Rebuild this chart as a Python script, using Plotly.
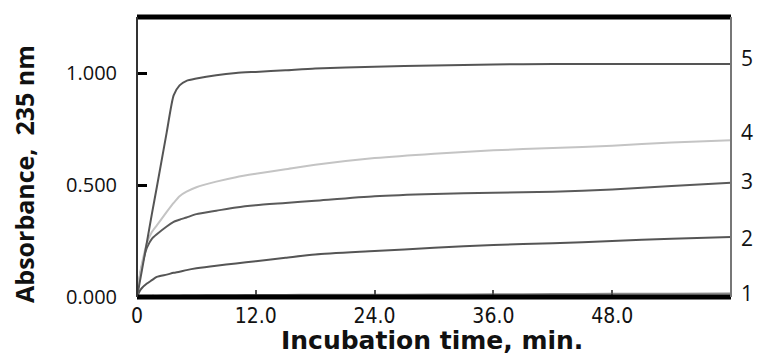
import plotly.graph_objects as go

# Incubation time (min)
time_min = [0, 0.25, 0.5, 1, 1.5, 2, 3, 3.7, 4.3, 5, 6, 8, 10, 12, 15, 18, 24, 30, 36, 42, 48, 54, 60]

# Absorbance at 235 nm for curves 1..5
curve1 = [0, 0.002, 0.003, 0.004, 0.005, 0.005, 0.006, 0.006, 0.006, 0.007, 0.007, 0.008, 0.008, 0.009, 0.009, 0.01, 0.01, 0.011, 0.012, 0.013, 0.014, 0.015, 0.016]
curve2 = [0, 0.025, 0.04, 0.06, 0.075, 0.09, 0.10, 0.108, 0.113, 0.12, 0.128, 0.14, 0.15, 0.16, 0.175, 0.19, 0.205, 0.22, 0.232, 0.24, 0.25, 0.26, 0.268]
curve3 = [0, 0.08, 0.14, 0.22, 0.26, 0.28, 0.315, 0.335, 0.345, 0.355, 0.37, 0.385, 0.40, 0.41, 0.42, 0.43, 0.45, 0.46, 0.465, 0.47, 0.48, 0.495, 0.51]
curve4 = [0, 0.09, 0.15, 0.24, 0.29, 0.32, 0.38, 0.42, 0.45, 0.47, 0.49, 0.515, 0.535, 0.55, 0.57, 0.59, 0.62, 0.64, 0.655, 0.665, 0.675, 0.69, 0.70]
curve5 = [0, 0.06, 0.12, 0.245, 0.37, 0.49, 0.735, 0.9, 0.945, 0.965, 0.975, 0.99, 1.0, 1.005, 1.012, 1.02, 1.028, 1.034, 1.038, 1.04, 1.04, 1.04, 1.04]

curve_labels = ["1", "2", "3", "4", "5"]
label_values = [0.018, 0.263, 0.518, 0.737, 1.067]

x_tickvals = [0, 12, 24, 36, 48]
x_ticktext = ["0", "12.0", "24.0", "36.0", "48.0"]
y_tickvals = [0, 0.5, 1.0]
y_ticktext = ["0.000", "0.500", "1.000"]

series = [curve1, curve2, curve3, curve4, curve5]
colors = ["#8a8a8a", "#555555", "#5a5a5a", "#c4c4c4", "#555555"]

fig = go.Figure()
for vals, col in zip(series, colors):
    fig.add_trace(go.Scatter(x=time_min, y=vals, mode="lines",
                             line=dict(color=col, width=2, shape="spline", smoothing=0.6),
                             showlegend=False, hoverinfo="skip"))

fig.update_layout(
    width=758, height=356,
    margin=dict(l=137, r=27, t=17, b=59),
    paper_bgcolor="white", plot_bgcolor="white",
    xaxis=dict(range=[0, 60], tickvals=x_tickvals, ticktext=x_ticktext,
               ticks="inside", ticklen=7, tickwidth=2, tickcolor="#555555",
               showgrid=False, zeroline=False, showline=False,
               ticklabelstandoff=4,
               tickfont=dict(family="DejaVu Sans Condensed", size=21, color="#111111")),
    yaxis=dict(range=[0, 1.25], tickvals=y_tickvals, ticktext=y_ticktext,
               ticks="inside", ticklen=10, tickwidth=3, tickcolor="#000000",
               showgrid=False, zeroline=False, showline=False,
               ticklabelstandoff=19,
               tickfont=dict(family="Open Sans", size=20, color="#111111")),
)

# frame: bold top & bottom, thin sides
fig.add_shape(type="line", xref="paper", yref="paper", x0=0, x1=1, y0=1, y1=1,
              line=dict(color="black", width=5))
fig.add_shape(type="line", xref="paper", yref="paper", x0=0, x1=1, y0=0, y1=0,
              line=dict(color="black", width=5))
fig.add_shape(type="line", xref="paper", yref="paper", x0=0, x1=0, y0=0, y1=1,
              line=dict(color="#333333", width=2))
fig.add_shape(type="line", xref="paper", yref="paper", x0=1, x1=1, y0=0, y1=1,
              line=dict(color="#777777", width=2))

for lab, v in zip(curve_labels, label_values):
    fig.add_annotation(x=1, xref="paper", xanchor="left", xshift=8, y=v, yref="y",
                       text=lab, showarrow=False,
                       font=dict(family="Open Sans", size=21, color="#111111"))

fig.add_annotation(x=0.497, xref="paper", y=-0.155, yref="paper", yanchor="middle",
                   text="<b>Incubation time, min.</b>", showarrow=False,
                   font=dict(family="DejaVu Sans", size=25, color="#111111"))
fig.add_annotation(x=-0.19, xref="paper", xanchor="center", y=0.44, yref="paper",
                   text="<b>Absorbance,  235 nm</b>", textangle=-90, showarrow=False,
                   font=dict(family="Open Sans", size=25, color="#111111"))

fig.write_html("out.html", config={"displayModeBar": False},
               post_script="document.body.style.margin='0';document.body.style.overflow='hidden';")
